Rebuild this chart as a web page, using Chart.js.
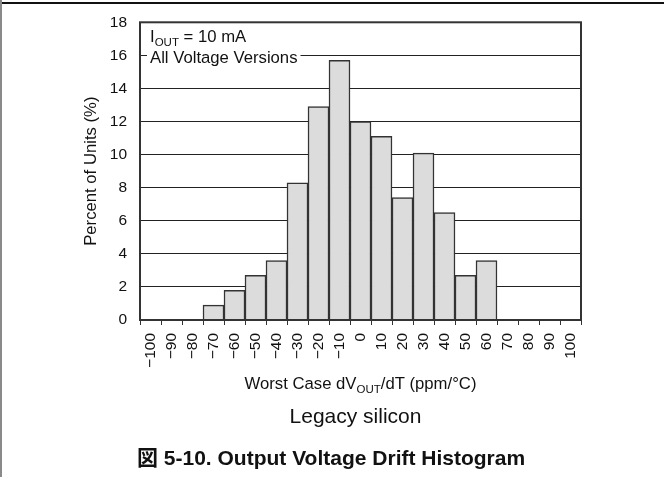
<!DOCTYPE html>
<html><head><meta charset="utf-8">
<script src="https://cdn.jsdelivr.net/npm/chart.js@4"></script>
<style>
html,body{margin:0;padding:0;background:#fff;}
#wrap{position:relative;width:664px;height:477px;overflow:hidden;}
#topline{position:absolute;left:0;top:2px;width:664px;height:2px;background:#111;}
#leftline{position:absolute;left:0;top:0;width:2px;height:477px;background:#8a8a8a;}
canvas{position:absolute;left:0;top:0;}
</style></head><body>
<div id="wrap"><canvas id="c" width="664" height="477"></canvas><div id="topline"></div><div id="leftline"></div></div>
<script>
// Bin labels (ppm/°C) and percent of units per bin
const binLabels = ['−100','−90','−80','−70','−60','−50','−40','−30','−20','−10','0','10','20','30','40','50','60','70','80','90','100'];
const percentUnits = [0,0,0,0.9,1.8,2.7,3.6,8.3,12.9,15.7,12.0,11.1,7.4,10.1,6.5,2.7,3.6,0,0,0,0];
const yTickMin = 0, yTickMax = 18, yTickStep = 2;
const yTitle = 'Percent of Units (%)';
const noteLine1 = [['I',16.7,0],['OUT',11.5,4],[' = 10 mA',16.7,0]];
const noteLine2 = 'All Voltage Versions';
const xTitle = [['Worst Case dV',16.7,0],['OUT',11.5,4],['/dT (ppm/°C)',16.7,0]];
const subCaption = 'Legacy silicon';
const figCaption = '図 5-10. Output Voltage Drift Histogram';

const FONT = '"Liberation Sans", Arial, "Noto Sans CJK JP", sans-serif';
Chart.defaults.font.family = FONT;
Chart.defaults.color = '#111';

function drawSegs(ctx, segs, x, y, align){
  let total = 0;
  const ws = segs.map(s => { ctx.font = s[1] + 'px ' + FONT; const w = ctx.measureText(s[0]).width; total += w; return w; });
  let cx = align === 'center' ? x - total/2 : x;
  segs.forEach((s,i) => { ctx.font = s[1] + 'px ' + FONT; ctx.fillText(s[0], cx, y + s[2]); cx += ws[i]; });
}

const notes = {
  id: 'notes',
  afterDatasetsDraw(chart){
    const {ctx, chartArea:a, scales:{y}} = chart;
    ctx.save();
    ctx.strokeStyle = '#333'; ctx.lineWidth = 2;
    ctx.strokeRect(a.left, a.top, a.right - a.left, a.bottom - a.top);
    ctx.textBaseline = 'alphabetic'; ctx.textAlign = 'left';
    const y16 = y.getPixelForValue(16);
    const x0 = a.left + 10;
    ctx.font = '16.7px ' + FONT;
    const w = ctx.measureText(noteLine2).width;
    ctx.fillStyle = '#fff'; ctx.fillRect(x0 - 3, y16 - 4, w + 6, 8);
    ctx.fillStyle = '#111';
    ctx.fillText(noteLine2, x0, y16 + 7.5);
    drawSegs(ctx, noteLine1, x0, y16 - 13.5, 'left');
    const cx = (a.left + a.right) / 2;
    drawSegs(ctx, xTitle, cx, a.bottom + 69, 'center');
    ctx.textAlign = 'center';
    ctx.font = '21px ' + FONT;
    ctx.fillText(subCaption, cx - 5, a.bottom + 103);
    ctx.textAlign = 'left';
    ctx.font = 'bold 21px ' + FONT;
    ctx.fillText(figCaption, a.left - 3, a.bottom + 145);
    ctx.restore();
  }
};

new Chart(document.getElementById('c'), {
  type: 'bar',
  data: { labels: binLabels, datasets: [{
    data: percentUnits,
    backgroundColor: '#dcdcdc', borderColor: '#333', borderWidth: 1.5,
    barPercentage: 1, categoryPercentage: 1
  }]},
  options: {
    responsive: false, animation: false,
    layout: { padding: { left: 0, top: 22, right: 83, bottom: 0 } },
    plugins: { legend: {display:false}, tooltip: {enabled:false}, title:{display:false} },
    scales: {
      x: {
        grid: { offset: true, drawOnChartArea: false, drawTicks: true, tickLength: 5, color: '#333', lineWidth: 1 },
        border: { display: false },
        ticks: { autoSkip: false, maxRotation: 90, minRotation: 90, padding: 8, font: { size: 15.5 }, color: '#111' },
        afterFit(s){ s.height = 157; }
      },
      y: {
        min: yTickMin, max: yTickMax,
        ticks: { stepSize: yTickStep, padding: 13, font: { size: 15.5 }, color: '#111' },
        grid: { color: '#222', lineWidth: 1, drawTicks: false },
        border: { display: false },
        title: { display: true, text: yTitle, font: { size: 16.7 }, color: '#111', padding: { top: 81, bottom: 0 } },
        afterFit(s){ s.width = 140; }
      }
    }
  },
  plugins: [notes]
});
</script>
</body></html>
